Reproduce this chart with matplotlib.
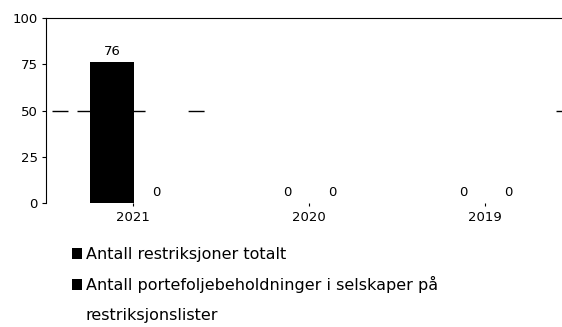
import matplotlib
matplotlib.use("Agg")
import matplotlib.pyplot as plt
from matplotlib.patches import Patch
import numpy as np

# Data
years = ["2021", "2020", "2019"]
restrictions_total = [76, 0, 0]
holdings_on_lists = [0, 0, 0]
series_labels = ["Antall restriksjoner totalt",
                 "Antall portefoljebeholdninger i selskaper på",
                 "restriksjonslister"]
y_ticks = [0, 25, 50, 75, 100]

plt.rcParams["font.family"] = ["DejaVu Sans"]

fig = plt.figure(figsize=(5.62, 3.27), dpi=100)
ax = fig.add_axes([46 / 562, 124 / 327, 526 / 562, 185 / 327])

x = np.arange(len(years))
width = 0.25
b1 = ax.bar(x - 0.12, restrictions_total, width, color="black")
b2 = ax.bar(x + 0.135, holdings_on_lists, width, color="black")
ax.bar_label(b1, padding=3, fontsize=9.5)
ax.bar_label(b2, padding=3, fontsize=9.5)

ax.set_xlim(-0.494, 2.495)
ax.set_ylim(0, 100)
ax.set_yticks(y_ticks)
ax.set_xticks(x)
ax.set_xticklabels(years)
ax.tick_params(axis="y", length=3, width=0.8, pad=3, labelsize=9.5)
ax.tick_params(axis="x", length=2, width=0.8, pad=4, labelsize=9.5)

for side in ("bottom", "right"):
    ax.spines[side].set_visible(False)
ax.spines["left"].set_linewidth(0.8)
ax.spines["top"].set_linewidth(0.8)

# broken reference line at 50
ax.axhline(50, color="black", linewidth=1.0, zorder=0,
           linestyle=(0, (11.5, 6.5, 49, 31, 11.5, 253.4, 14.4, 2000)),
           xmin=6 / 526)

handles = [b1[0], b2[0], Patch(facecolor="none", edgecolor="none")]
fig.legend(handles, series_labels, loc="upper left",
           bbox_to_anchor=(72 / 562, 80 / 327), frameon=False,
           fontsize=11.5, handlelength=0.65, handleheight=0.65,
           handletextpad=0.2, labelspacing=0.9, borderpad=0,
           borderaxespad=0)

fig.savefig("out.png", dpi=100)
